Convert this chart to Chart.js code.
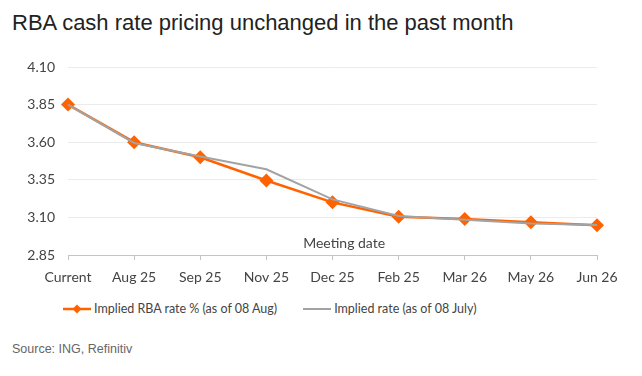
<!DOCTYPE html>
<html>
<head>
<meta charset="utf-8">
<script src="https://cdn.jsdelivr.net/npm/chart.js@4"></script>
<style>
  body { margin: 0; background: #fff; }
  #wrap { position: relative; width: 642px; height: 376px; overflow: hidden; }
  #title { position: absolute; left: 12px; top: 10px; font: 22px "Liberation Sans", Arial, sans-serif; color: #222; white-space: nowrap; }
  #chartBox { position: absolute; left: 0; top: 40px; width: 642px; height: 250px; }
  #legend { position: absolute; left: 63px; top: 301px; font: 12.5px Lato, sans-serif; color: #444; white-space: nowrap; display: flex; align-items: center; }
  .item { display: flex; align-items: center; margin-right: 26px; }
  .item canvas { margin-right: 3px; }
  #source { position: absolute; left: 12px; top: 342px; font: 12.5px "Liberation Sans", Arial, sans-serif; color: #666; }
</style>
</head>
<body>
<div id="wrap">
  <div id="title">RBA cash rate pricing unchanged in the past month</div>
  <div id="chartBox"><canvas id="grafico"></canvas></div>
  <div id="legend"></div>
  <div id="source">Source: ING, Refinitiv</div>
</div>
<script>
const categorias = ["Current", "Aug 25", "Sep 25", "Nov 25", "Dec 25", "Feb 25", "Mar 26", "May 26", "Jun 26"];
const taxaAgosto = [3.85, 3.60, 3.50, 3.345, 3.20, 3.105, 3.09, 3.067, 3.048];
const taxaJulho = [3.85, 3.595, 3.505, 3.42, 3.22, 3.11, 3.085, 3.06, 3.05];
const ticksY = [2.85, 3.10, 3.35, 3.60, 3.85, 4.10];
const nomeAgosto = "Implied RBA rate % (as of 08 Aug)";
const nomeJulho = "Implied rate (as of 08 July)";
const tituloX = "Meeting date";

const laranja = "#ff6200";
const cinza = "#a3a3a3";

// texto "Meeting date" dentro da área do gráfico
const tituloEixo = {
  id: "tituloEixo",
  afterDraw(chart) {
    const { ctx, chartArea } = chart;
    ctx.save();
    ctx.font = "14px Lato, sans-serif";
    ctx.fillStyle = "#444";
    ctx.textAlign = "center";
    ctx.textBaseline = "middle";
    ctx.fillText(tituloX, chartArea.left + chartArea.width * 0.522, chartArea.bottom - 12);
    ctx.restore();
  }
};

const ctx = document.getElementById("grafico").getContext("2d");
const grafico = new Chart(ctx, {
  type: "line",
  data: {
    labels: categorias,
    datasets: [
      {
        label: nomeAgosto,
        data: taxaAgosto,
        borderColor: laranja,
        backgroundColor: laranja,
        borderWidth: 2.5,
        pointStyle: "rectRot",
        pointRadius: 7,
        pointBorderWidth: 0,
        tension: 0,
        order: 1
      },
      {
        label: nomeJulho,
        data: taxaJulho,
        borderColor: cinza,
        backgroundColor: cinza,
        borderWidth: 2,
        pointRadius: 0,
        tension: 0,
        order: 0
      }
    ]
  },
  options: {
    responsive: true,
    maintainAspectRatio: false,
    animation: false,
    layout: { padding: { left: 0, right: 45, top: 27, bottom: 0 } },
    plugins: {
      legend: { display: false },
      title: { display: false },
      tooltip: { enabled: false }
    },
    scales: {
      x: {
        grid: { drawOnChartArea: false, drawTicks: true, tickLength: 5, color: "#c4c4c4" },
        border: { color: "#c4c4c4" },
        ticks: { color: "#444", font: { family: "Lato", size: 14 }, padding: 9, maxRotation: 0, autoSkip: false },
        afterFit(scale) { scale.height = 35; }
      },
      y: {
        min: 2.85,
        max: 4.10,
        afterBuildTicks(scale) { scale.ticks = ticksY.map(v => ({ value: v })); },
        grid: { color: "#ebebeb", drawTicks: false },
        border: { display: false },
        ticks: {
          color: "#444",
          font: { family: "Lato", size: 14 },
          padding: 13,
          callback: v => Number(v).toFixed(2)
        },
        afterFit(scale) { scale.width = 68; }
      }
    }
  },
  plugins: [tituloEixo]
});

// legenda em HTML
const legendDiv = document.getElementById("legend");
grafico.data.datasets.forEach((ds, i) => {
  const item = document.createElement("div");
  item.className = "item";
  const c = document.createElement("canvas");
  c.width = 28; c.height = 14;
  const g = c.getContext("2d");
  g.strokeStyle = ds.borderColor;
  g.lineWidth = ds.borderWidth;
  g.beginPath(); g.moveTo(0, 7); g.lineTo(28, 7); g.stroke();
  if (ds.pointStyle === "rectRot") {
    g.fillStyle = ds.borderColor;
    g.beginPath(); g.moveTo(14, 2.5); g.lineTo(18.5, 7); g.lineTo(14, 11.5); g.lineTo(9.5, 7); g.closePath(); g.fill();
  }
  const t = document.createElement("span");
  t.textContent = ds.label;
  item.appendChild(c);
  item.appendChild(t);
  legendDiv.appendChild(item);
});
</script>
</body>
</html>
